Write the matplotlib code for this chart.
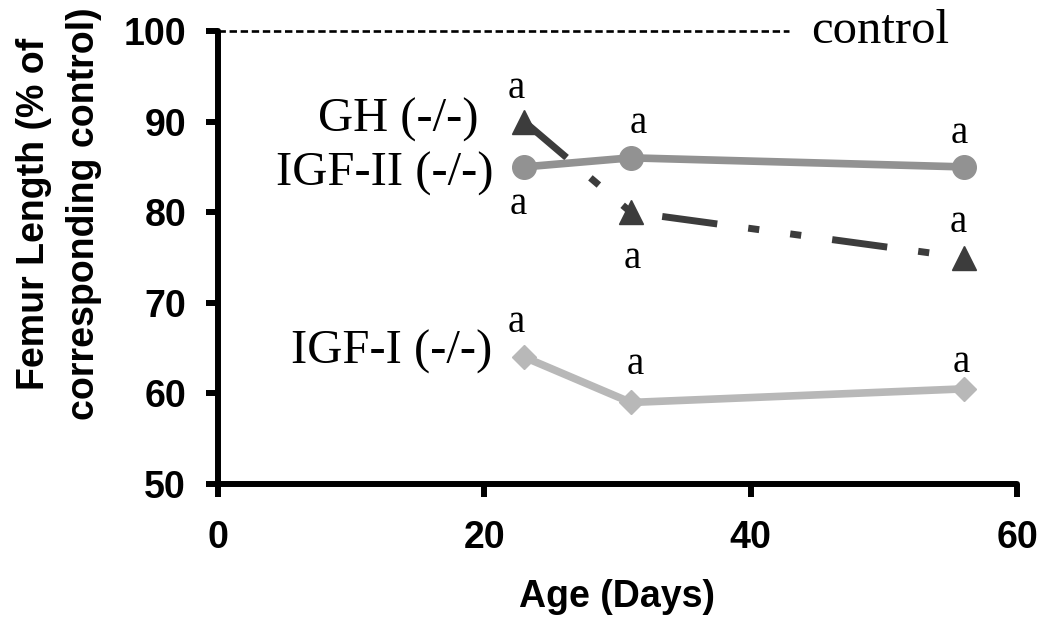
import matplotlib
matplotlib.use('Agg')
import matplotlib.pyplot as plt

# ---- data ----
age_days = [23, 31, 56]
gh_ko = [90, 80, 75]
igf2_ko = [85, 86, 85]
igf1_ko = [64, 59, 60.5]
control_level = 100
x_ticks = [0, 20, 40, 60]
y_ticks = [50, 60, 70, 80, 90, 100]
series_labels = ["GH (-/-)", "IGF-II (-/-)", "IGF-I (-/-)"]
sig_letter = "a"

SERIF = ['Liberation Serif', 'DejaVu Serif']
SANS = ['Liberation Sans', 'DejaVu Sans']

fig = plt.figure(figsize=(10.5, 6.3), dpi=100)
fig.patch.set_facecolor('white')
W, H = 1050, 630
x0, x1, y0, y1 = 218, 1017, 31, 484
ax = fig.add_axes([x0 / W, 1 - y1 / H, (x1 - x0) / W, (y1 - y0) / H])

ax.set_xlim(x_ticks[0], x_ticks[-1])
ax.set_ylim(y_ticks[0], y_ticks[-1])
ax.set_xticks(x_ticks)
ax.set_yticks(y_ticks)

for s in ['top', 'right']:
    ax.spines[s].set_visible(False)
for s in ['left', 'bottom']:
    ax.spines[s].set_linewidth(4.3)
    ax.spines[s].set_capstyle('round')
ax.tick_params(axis='both', direction='out', length=9, width=4.3, color='black')
ax.tick_params(axis='x', pad=17)
ax.tick_params(axis='y', pad=14)
for lab in ax.get_xticklabels() + ax.get_yticklabels():
    lab.set_family(SANS)
    lab.set_fontweight('bold')
    lab.set_fontsize(27)

# control line
ax.axhline(control_level, xmin=0, xmax=0.715, color='black', lw=1.9,
           ls=(0, (2.8, 1.4)), clip_on=False, zorder=1)
ax.text(0.742, control_level, "control", transform=ax.get_yaxis_transform(),
        ha='left', va='center', fontsize=35, family=SERIF, clip_on=False)

# series
gh_color = '#3c3c3c'
igf2_color = '#929292'
igf1_color = '#b8b8b8'

ax.plot(age_days, gh_ko, color=gh_color, lw=5, ls=(0, (8, 4.5, 1.6, 4.5, 1.6, 4.5)),
        marker='^', ms=17, mec=gh_color, mfc=gh_color, zorder=3, clip_on=False)
ax.plot(age_days, igf2_ko, color=igf2_color, lw=5.5, solid_capstyle='round',
        marker='o', ms=17, mec=igf2_color, mfc=igf2_color, zorder=4, clip_on=False)
ax.plot(age_days, igf1_ko, color=igf1_color, lw=5.5, solid_joinstyle='round',
        marker='D', ms=12, mec=igf1_color, mfc=igf1_color, zorder=4, clip_on=False)

# series labels
lab_kw = dict(fontsize=35, family=SERIF, ha='right', va='center')
ax.annotate(series_labels[0], xy=(age_days[0], gh_ko[0]), xytext=(-33, 1),
            textcoords='offset points', **lab_kw)
ax.annotate(series_labels[1], xy=(age_days[0], igf2_ko[0]), xytext=(-22, -5),
            textcoords='offset points', **lab_kw)
ax.annotate(series_labels[2], xy=(age_days[0], igf1_ko[0]), xytext=(-23, 4),
            textcoords='offset points', **lab_kw)

# significance letters (offsets in points)
a_kw = dict(fontsize=28, family=SERIF, ha='center', va='center',
            textcoords='offset points')
offs_gh = [(-6, 24), (1, -33), (-4, 25)]
offs_igf2 = [(-4, -27), (5, 25), (-3, 24)]
offs_igf1 = [(-6, 25), (3, 27), (-2, 19)]
for xv, yv, off in zip(age_days, gh_ko, offs_gh):
    ax.annotate(sig_letter, xy=(xv, yv), xytext=off, **a_kw)
for xv, yv, off in zip(age_days, igf2_ko, offs_igf2):
    ax.annotate(sig_letter, xy=(xv, yv), xytext=off, **a_kw)
for xv, yv, off in zip(age_days, igf1_ko, offs_igf1):
    ax.annotate(sig_letter, xy=(xv, yv), xytext=off, **a_kw)

# axis titles
fig.text(617 / W, 1 - 597 / H, "Age (Days)", ha='center', va='center',
         fontsize=27, fontweight='bold', family=SANS)
fig.text(59 / W, 1 - 214 / H, "Femur Length (% of\ncorresponding control)",
         rotation=90, ha='center', va='center', multialignment='center',
         fontsize=27, fontweight='bold', family=SANS, linespacing=1.5)

fig.savefig('out.png', dpi=100, facecolor='white')
